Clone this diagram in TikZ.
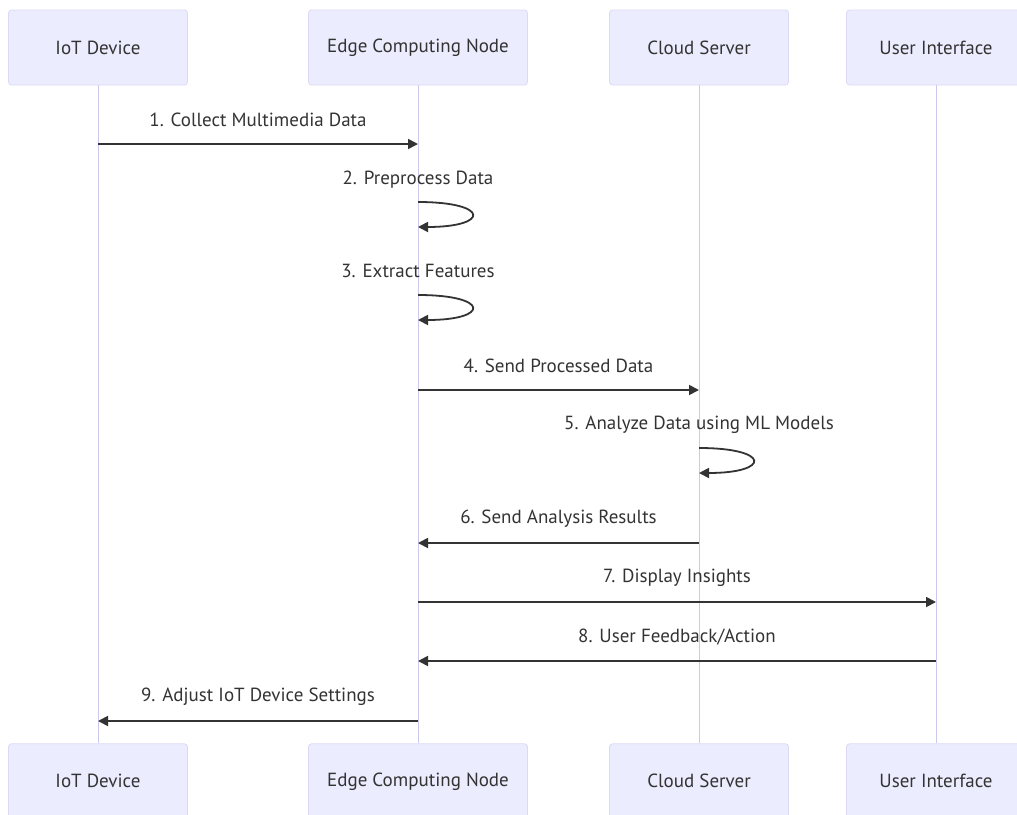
\documentclass[tikz,border=0pt]{standalone}
\usepackage{fontspec}
\setmainfont{PT Sans}
\usetikzlibrary{positioning, arrows.meta}
\definecolor{actorfill}{HTML}{ECECFF}
\definecolor{actorline}{HTML}{DDD9F5}
\definecolor{lifecol}{HTML}{CCCAEA}
\definecolor{inkcol}{HTML}{333333}
\tikzset{
actor/.style={rectangle, rounded corners=1.5pt, draw=actorline, fill=actorfill, minimum width=89.5pt, minimum height=37.5pt, text=inkcol, font=\fontsize{9.5}{11}\selectfont}, % the participant boxes
life/.style={draw=lifecol, line width=0.5pt}, % the vertical lifelines
msg/.style={->, draw=inkcol, line width=0.9pt}, % the message arrows
lbl/.style={text=inkcol, font=\fontsize{9.5}{11}\selectfont, inner sep=1pt}, % message texts
>={Triangle[length=5pt,width=5pt]}, % filled arrow heads
}
\begin{document}
\begin{tikzpicture}[x=0.5pt,y=-0.5pt]
\useasboundingbox (0,0) rectangle (1017,814);
% participants, top row
\node[actor] (iot) at (98,47.5) {IoT Device};
\node[actor, minimum width=109.5pt] (edge) at (418,47.5) {Edge Computing Node};
\node[actor] (cloud) at (699,47.5) {Cloud Server};
\node[actor] (ui) at (936,47.5) {User Interface};
% participants, bottom row
\node[actor] (iot2) [below=329pt of iot] {IoT Device};
\node[actor, minimum width=109.5pt] (edge2) [below=329pt of edge] {Edge Computing Node};
\node[actor] (cloud2) [below=329pt of cloud] {Cloud Server};
\node[actor] (ui2) [below=329pt of ui] {User Interface};
% lifelines
\draw[life] (iot) -- (iot2);
\draw[life] (edge) -- (edge2);
\draw[life] (cloud) -- (cloud2);
\draw[life] (ui) -- (ui2);
% messages
\draw[msg] (iot |- 0,144) -- node[lbl, yshift=12pt] {1. Collect Multimedia Data} (edge |- 0,144);
\node[lbl] (pre) at (edge |- 0,180) {2. Preprocess Data};
\draw[msg] (edge |- 0,202) .. controls +(72,0) and +(72,0) .. (edge |- 0,227);
\node[lbl] (feat) at (edge |- 0,271) {3. Extract Features};
\draw[msg] (edge |- 0,295) .. controls +(72,0) and +(72,0) .. (edge |- 0,320);
\draw[msg] (edge |- 0,390) -- node[lbl, yshift=12pt] {4. Send Processed Data} (cloud |- 0,390);
\node[lbl] (ana) at (cloud |- 0,425) {5. Analyze Data using ML Models};
\draw[msg] (cloud |- 0,448) .. controls +(72,0) and +(72,0) .. (cloud |- 0,473);
\draw[msg] (cloud |- 0,543) -- node[lbl, yshift=12pt] {6. Send Analysis Results} (edge |- 0,543);
\draw[msg] (edge |- 0,602) -- node[lbl, yshift=12pt] {7. Display Insights} (ui |- 0,602);
\draw[msg] (ui |- 0,661) -- node[lbl, yshift=12pt] {8. User Feedback/Action} (edge |- 0,661);
\draw[msg] (edge |- 0,721) -- node[lbl, yshift=12pt] {9. Adjust IoT Device Settings} (iot |- 0,721);
\end{tikzpicture}
\end{document}
